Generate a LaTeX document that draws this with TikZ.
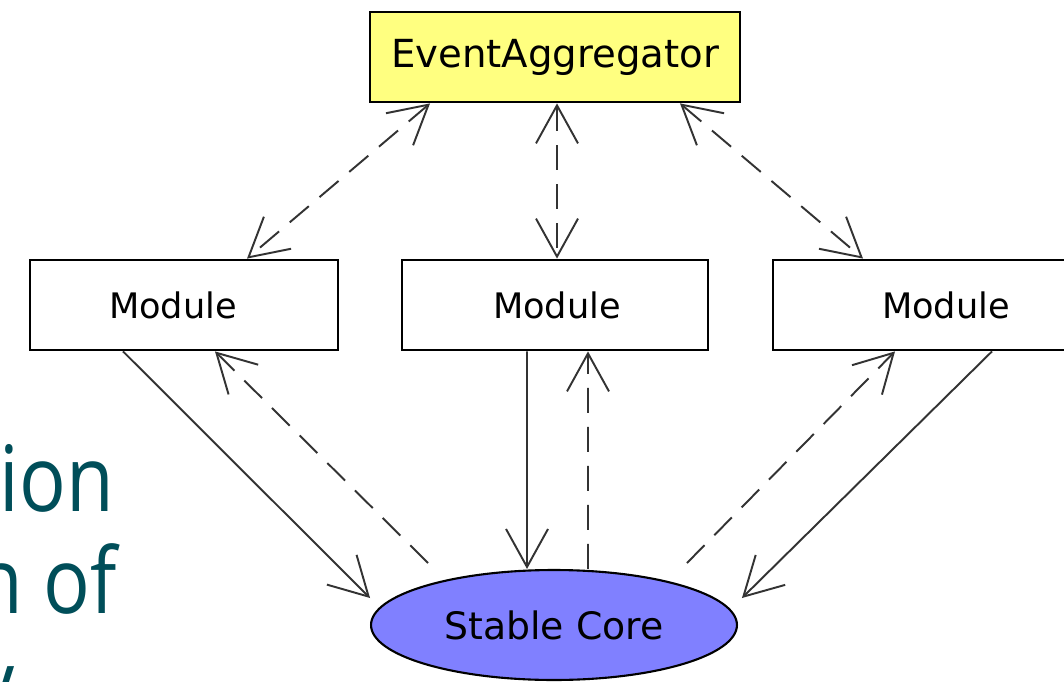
\documentclass[tikz,border=0pt]{standalone}
\usepackage{fontspec}
\setmainfont{DejaVu Sans}
\newfontfamily\slidefont{Open Sans}
\usetikzlibrary{arrows.meta,shapes.geometric}
\definecolor{eayellow}{RGB}{255,255,128}
\definecolor{coreblue}{RGB}{128,128,255}
\definecolor{slideteal}{RGB}{0,78,89}
\begin{document}
\begin{tikzpicture}[x=0.02cm,y=-0.02cm,
  modbox/.style={draw=black, line width=1.6pt, rectangle, minimum height=1.8cm, inner sep=0pt, font=\fontsize{20}{24}\selectfont},
  tipv/.tip={Straight Barb[length=0.76cm,width=0.84cm]},
  conn/.style={draw=black!80, line width=1.1pt, -tipv},
  dconn/.style={conn, dash pattern=on 0.5cm off 0.28cm},
  dboth/.style={dconn, tipv-tipv},
  slidetext/.style={text=slideteal, font=\slidefont\fontsize{52}{60}\selectfont, xscale=0.85, inner sep=0pt}
]
\useasboundingbox (0,0) rectangle (1064,682);
\clip (0,0) rectangle (1064,682);
\fill[white] (0,0) rectangle (1064,682);

% slide text behind the diagram
\node[slidetext, anchor=base east] (t1) at (114,511) {tion};
\node[slidetext, anchor=base east] (t2) at (117,613) {n of};
\node[slidetext, anchor=base east] (t3) at (15,715) {y};

% nodes
\node[modbox, fill=eayellow, minimum width=7.4cm, font=\fontsize{22}{26}\selectfont] (ea) at (555,57) {EventAggregator};
\node[modbox, fill=white, minimum width=6.16cm] (m1) at (184,305) {Module\hspace*{0.44cm}};
\node[modbox, fill=white, minimum width=6.12cm] (m2) at (555,305) {\hspace*{0.08cm}Module};
\node[modbox, fill=white, minimum width=6.16cm] (m3) at (927,305) {\hspace*{0.76cm}Module};
\node[draw=black, line width=1.2pt, fill=coreblue, ellipse, minimum width=7.32cm, minimum height=2.2cm, inner sep=0pt, font=\fontsize{21.5}{26}\selectfont] (core) at (554,625) {Stable Core};

% event aggregator links
\draw[dboth] ([xshift=-2.5cm]ea.south) -- ([xshift=1.26cm]m1.north);
\draw[dboth] ([xshift=0.04cm]ea.south) -- ([xshift=0.04cm]m2.north);
\draw[dboth] ([xshift=2.5cm]ea.south) -- ([xshift=-1.28cm]m3.north);

% module to core
\draw[conn] ([xshift=-1.22cm]m1.south) -- ([xshift=-3.68cm,yshift=0.54cm]core.center);
\draw[conn] ([xshift=-0.56cm]m2.south) -- ([xshift=-0.54cm]core.north);
\draw[conn] ([xshift=1.3cm]m3.south) -- ([xshift=3.76cm,yshift=0.54cm]core.center);

% core to module
\draw[dconn] ([xshift=-2.52cm,yshift=1.24cm]core.center) -- ([xshift=0.62cm]m1.south);
\draw[dconn] ([xshift=0.68cm]core.north) -- ([xshift=0.66cm]m2.south);
\draw[dconn] ([xshift=2.66cm,yshift=1.24cm]core.center) -- ([xshift=-0.64cm]m3.south);
\end{tikzpicture}
\end{document}
